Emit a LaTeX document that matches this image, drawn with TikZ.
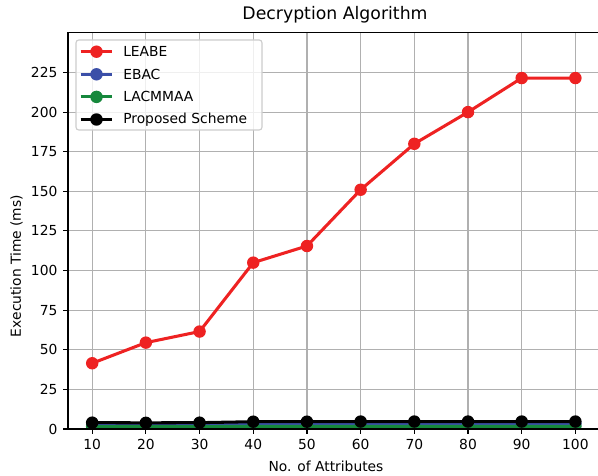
\documentclass[tikz,border=0pt]{standalone}
\usepackage{fontspec}
\setmainfont{DejaVu Sans}
\usetikzlibrary{positioning, calc}
\definecolor{leabered}{RGB}{238,34,34}
\definecolor{ebacblue}{RGB}{59,79,168}
\definecolor{lacgreen}{RGB}{22,136,60}
\definecolor{gridgray}{RGB}{176,176,176}
\definecolor{legendedge}{RGB}{204,204,204}

\begin{document}
\begin{tikzpicture}[x=0.0254cm, y=0.0254cm, font=\fontsize{10}{12}\selectfont,
    gridline/.style={draw=gridgray, line width=0.8pt},
    spine/.style={draw=black, line width=0.8pt},
    series/.style={line width=2.2pt, line join=round},
    dot/.style={circle, inner sep=0pt, minimum size=9pt},
    ticklabel/.style={inner sep=0pt}]
    \useasboundingbox (0,0) rectangle (598,476);
    \clip (0,0) rectangle (598,476);

    % axes, in data units
    \begin{scope}[shift={(38.5,47)}, x=0.13640cm, y=0.040259cm]
      \foreach \x in {10,20,...,100}
        \draw[gridline] (\x,0) -- (\x,250);
      \foreach \y in {0,25,...,225}
        \draw[gridline] (5.5,\y) -- (104.5,\y);

      % data, clipped to the axes
      \begin{scope}
        \clip (5.5,0) rectangle (104.5,250);
        \foreach \i/\a/\b/\c/\d in {1/41.5/2.7/1.5/4.0, 2/54.5/2.6/1.5/3.9, 3/61.5/2.7/1.5/4.0,
            4/105/3.2/1.7/4.6, 5/115.5/3.2/1.7/4.6, 6/151/3.3/1.7/4.7, 7/180/3.3/1.7/4.7,
            8/200/3.3/1.7/4.7, 9/221.5/3.3/1.7/4.7, 10/221.5/3.3/1.7/4.7} {
          \coordinate (leabe\i) at (10*\i,\a);
          \coordinate (ebac\i) at (10*\i,\b);
          \coordinate (lacm\i) at (10*\i,\c);
          \coordinate (prop\i) at (10*\i,\d);
        }
        \foreach \s/\col in {leabe/leabered, ebac/ebacblue, lacm/lacgreen, prop/black} {
          \draw[series, \col] (\s1) \foreach \i in {2,...,10} { -- (\s\i) };
          \foreach \i in {1,...,10}
            \node[dot, fill=\col] at (\s\i) {};
        }
      \end{scope}

      \draw[spine] (5.5,0) -- (5.5,250) -- (104.5,250) -- (104.5,0) -- cycle;
      \foreach \x in {10,20,...,100} {
        \draw[spine] (\x,0) -- ++(0,-3.5pt);
        \node[ticklabel, anchor=north] (xt\x) at ([yshift=-7.5pt]\x,0) {\x};
      }
      \foreach \y in {0,25,...,225} {
        \draw[spine] (5.5,\y) -- ++(-3.5pt,0);
        \node[ticklabel, anchor=east] (yt\y) at ([xshift=-7.5pt]5.5,\y) {\y};
      }
    \end{scope}

    % legend
    \draw[legendedge, fill=white, fill opacity=0.8, rounded corners=2pt, line width=0.8pt]
      (76,346) rectangle (262,436);
    \foreach \row/\col/\lab in {1/leabered/LEABE, 2/ebacblue/EBAC, 3/lacgreen/LACMMAA, 4/black/Proposed Scheme} {
      \coordinate (hs\row) at (80.7,446.9-22.6*\row);
      \coordinate (he\row) at (112.3,446.9-22.6*\row);
      \draw[series, \col] (hs\row) -- (he\row);
      \node[dot, fill=\col] (hm\row) at ($(hs\row)!0.5!(he\row)$) {};
      \node[anchor=west, inner sep=0pt] (leg\row) at (123,446.9-22.6*\row) {\lab};
    }

    % labels
    \node (title) at (335,461) {\fontsize{12.5}{15}\selectfont Decryption Algorithm};
    \node (xlabel) at (326,10) {No. of Attributes};
    \node[rotate=90] (ylabel) at (16.5,210) {Execution Time (ms)};
\end{tikzpicture}
\end{document}
